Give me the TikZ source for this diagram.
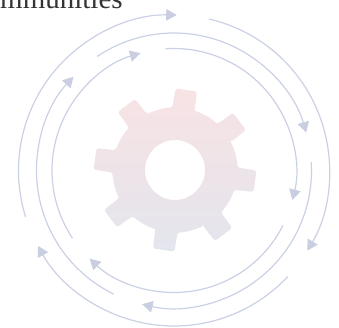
\documentclass[tikz,border=0pt]{standalone}
\usepackage{fontspec}
\setmainfont{Liberation Serif}
\usetikzlibrary{arrows.meta}
\definecolor{arcc}{HTML}{CAD1E4}
\definecolor{headc}{HTML}{C9CEE0}
\definecolor{geartop}{HTML}{F8E3E4}
\definecolor{gearbot}{HTML}{E3E5ED}
\tikzset{
  x=1pt,y=-1pt,
  flow/.style={draw=arcc,line width=1.2pt,-{Triangle[length=10.5pt,width=11.5pt,fill=headc,color=headc]}},
  caption/.style={anchor=base west,inner sep=0pt,font=\fontsize{29}{29}\selectfont,text=black!80},
}
\newcommand{\flowarc}[3]{%
  \draw[flow] ({174+#1*cos(#2)},{170.5-#1*sin(#2)}) arc[start angle=-#2,end angle=-#3,radius=#1];}
\newcommand{\gearpt}[2]{({175+#1*cos(#2)},{170-#1*sin(#2)})}
\begin{document}
\begin{tikzpicture}
\useasboundingbox (0,0) rectangle (339,327);
\begin{scope}
\clip (0,0) rectangle (339,327);
\node[caption] (cap) at (0,8.3) {mmunities};
\end{scope}
% gear: one outline, eight teeth, hole cut out by the even odd rule
\path[even odd rule,top color=geartop,bottom color=gearbot]
  \gearpt{62.5}{-18+10.4-20.8}
  foreach \a in {-8,37,82,127,172,217,262,307}{
    [rounded corners=2.5pt] -- \gearpt{62.5}{\a-10.4} -- \gearpt{81.5}{\a-7.6} -- \gearpt{81.5}{\a+7.6} -- \gearpt{62.5}{\a+10.4}
    [sharp corners] arc[start angle={-(\a+10.4)},end angle={-(\a+34.6)},radius=62.5]
  } -- cycle
  (205,170) arc[start angle=0,end angle=360,radius=30];
\flowarc{155.5}{197.4}{89}
\flowarc{155.5}{77}{-31}
\flowarc{155.5}{-43}{-151}
\flowarc{137.5}{244}{137}
\flowarc{137.5}{124}{16}
\flowarc{137.5}{3.5}{-103.4}
\flowarc{122}{213.7}{106}
\flowarc{122}{94}{-14}
\flowarc{122}{-26.8}{-133.7}
\end{tikzpicture}
\end{document}
